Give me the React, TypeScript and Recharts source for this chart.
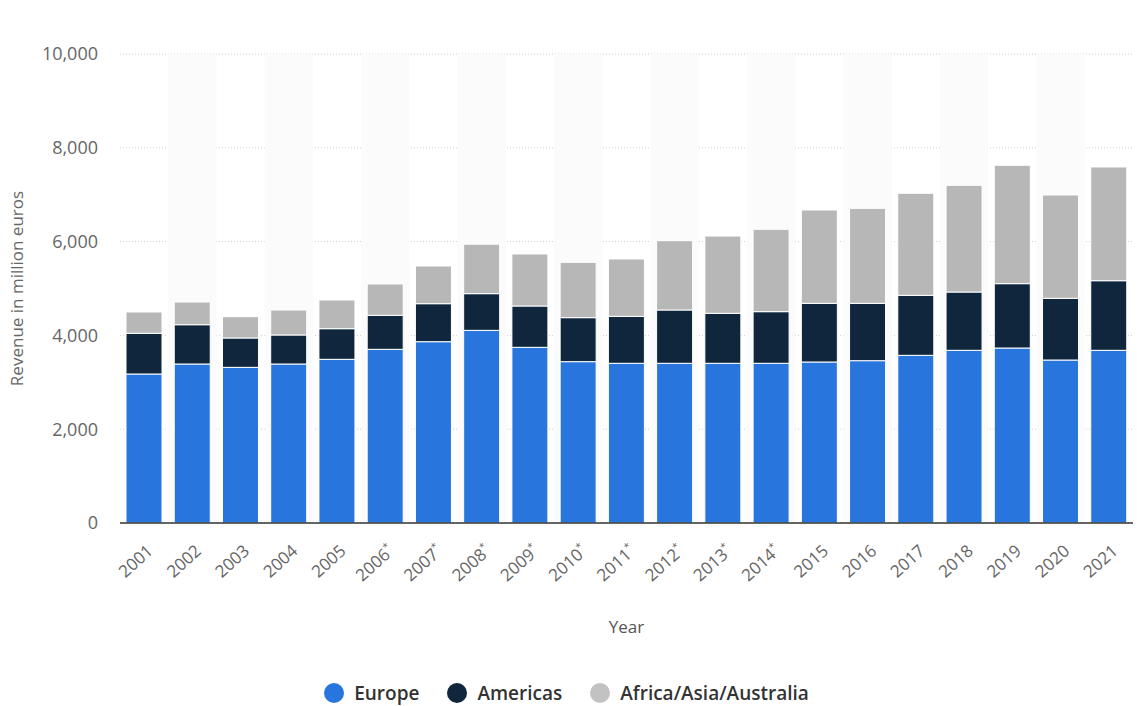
import React from "react";
import {
  BarChart,
  Bar,
  XAxis,
  YAxis,
  CartesianGrid,
  Legend,
  ReferenceArea,
} from "recharts";

const YEARS = [
  "2001", "2002", "2003", "2004", "2005", "2006*", "2007*", "2008*", "2009*", "2010*", "2011*",
  "2012*", "2013*", "2014*", "2015", "2016", "2017", "2018", "2019", "2020", "2021",
];

const EUROPE = [
  3177, 3390, 3319, 3390, 3490, 3703, 3866, 4108, 3746, 3440, 3405,
  3405, 3405, 3405, 3433, 3461, 3575, 3682, 3731, 3475, 3682,
];

const AMERICAS = [
  868, 838, 626, 619, 653, 725, 810, 782, 881, 938, 1001,
  1137, 1066, 1101, 1251, 1223, 1280, 1243, 1372, 1316, 1484,
];

const REST = [
  454, 484, 454, 532, 612, 668, 804, 1055, 1109, 1180, 1223,
  1478, 1648, 1756, 1990, 2025, 2175, 2275, 2524, 2203, 2425,
];

const Y_TICKS = [0, 2000, 4000, 6000, 8000, 10000];

const SERIES = [
  { key: "europe", name: "Europe", color: "#2876dd", dot: "#2876dd" },
  { key: "americas", name: "Americas", color: "#0f263d", dot: "#0f263d" },
  { key: "rest", name: "Africa/Asia/Australia", color: "#b7b7b7", dot: "#c2c2c2" },
];

const data = YEARS.map((year, i) => ({
  year,
  europe: EUROPE[i],
  americas: AMERICAS[i],
  rest: REST[i],
}));

const FONT = "'Open Sans', 'DejaVu Sans', sans-serif";

function YearTick({ x, y, payload }: any) {
  const label: string = payload.value;
  const star = label.endsWith("*");
  const year = star ? label.slice(0, -1) : label;
  return (
    <g transform={`translate(${x + 6},${y + 17})`}>
      <text
        textAnchor="end"
        transform="rotate(-42)"
        fill="#666"
        fontSize={17}
        fontFamily={FONT}
        dy="0.35em"
      >
        {year}
        {star ? (
          <tspan fontSize={10} dy="-0.7em">
            *
          </tspan>
        ) : null}
      </text>
    </g>
  );
}

function LegendContent() {
  return (
    <div
      style={{
        display: "flex",
        justifyContent: "center",
        alignItems: "center",
        fontFamily: FONT,
        fontSize: 19,
        lineHeight: "26px",
        color: "#333",
        fontWeight: 600,
        paddingTop: 10,
      }}
    >
      {SERIES.map((s) => (
        <div
          key={s.key}
          style={{ display: "flex", alignItems: "center", margin: "0 14px" }}
        >
          <span
            style={{
              display: "inline-block",
              width: 20,
              height: 20,
              borderRadius: "50%",
              background: s.dot,
              marginRight: 10,
            }}
          />
          <span>{s.name}</span>
        </div>
      ))}
    </div>
  );
}

export default function App() {
  return (
    <div style={{ position: "absolute", left: 0, top: 0, background: "#fff" }}>
      <BarChart
        width={1137}
        height={706}
        data={data}
        margin={{ top: 54, right: 4, left: 0, bottom: 0 }}
        barSize={36}
      >
        {YEARS.map((y, i) =>
          i % 2 === 1 ? (
            <ReferenceArea
              key={y}
              x1={y}
              x2={y}
              fill="#fbfbfb"
              fillOpacity={1}
              stroke="none"
              ifOverflow="visible"
            />
          ) : null
        )}
        <CartesianGrid
          vertical={false}
          stroke="#cfcfcf"
          strokeDasharray="1 2"
        />
        <XAxis
          dataKey="year"
          height={147}
          interval={0}
          tick={<YearTick />}
          tickLine={false}
          axisLine={{ stroke: "#333", strokeWidth: 1.5 }}
          label={{
            value: "Year",
            position: "insideBottom",
            offset: 37,
            fill: "#555",
            fontSize: 17,
            fontFamily: FONT,
          }}
        />
        <YAxis
          width={120}
          domain={[0, 10000]}
          ticks={Y_TICKS}
          tickFormatter={(v: number) => v.toLocaleString("en-US")}
          tick={{ fill: "#666", fontSize: 18, fontFamily: FONT }}
          tickLine={false}
          axisLine={false}
          tickMargin={16}
          label={{
            value: "Revenue in million euros",
            angle: -90,
            position: "insideLeft",
            offset: 17,
            fill: "#666",
            fontSize: 17,
            fontFamily: FONT,
            style: { textAnchor: "middle" },
          }}
        />
        <Legend
          verticalAlign="bottom"
          height={36}
          content={<LegendContent />}
        />
        {SERIES.map((s) => (
          <Bar
            key={s.key}
            dataKey={s.key}
            name={s.name}
            stackId="a"
            fill={s.color}
            stroke="#fff"
            strokeWidth={1}
            isAnimationActive={false}
          />
        ))}
      </BarChart>
    </div>
  );
}
